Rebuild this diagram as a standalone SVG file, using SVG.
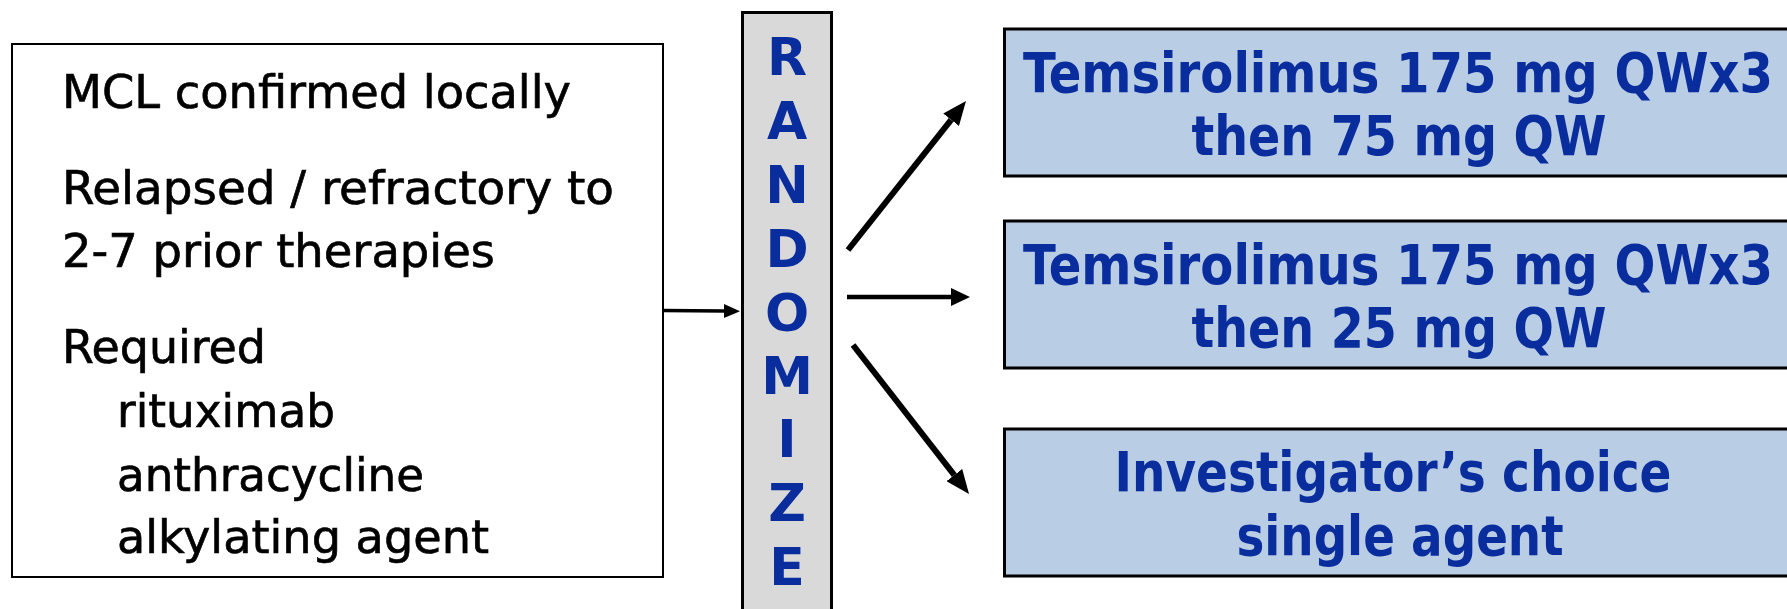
<svg xmlns="http://www.w3.org/2000/svg" width="1787" height="609" viewBox="0 0 1787 609">
<style>
.lt{font-family:'DejaVu Sans Condensed','DejaVu Sans',sans-serif;font-size:47px;fill:#000;stroke:#000;stroke-width:0.6}
.bt{font-family:'DejaVu Sans Condensed','DejaVu Sans',sans-serif;font-size:55px;font-weight:bold;fill:#0A2D9E;text-anchor:middle}
.rt{font-family:'DejaVu Sans','Liberation Sans',sans-serif;font-size:52px;font-weight:bold;fill:#0A2D9E;text-anchor:middle}
.arm{fill:#B9CDE5;stroke:#000;stroke-width:3}
.conn{stroke:#000;fill:none}
</style>
<defs>
<marker id="hb" markerUnits="userSpaceOnUse" markerWidth="24" markerHeight="20" viewBox="0 0 24 20" refX="0" refY="10" orient="auto"><path d="M0,0 L24,10 L0,20 Z" fill="#000"/></marker>
<marker id="hm" markerUnits="userSpaceOnUse" markerWidth="19" markerHeight="18" viewBox="0 0 19 18" refX="0" refY="9" orient="auto"><path d="M0,0 L19,9 L0,18 Z" fill="#000"/></marker>
<marker id="hs" markerUnits="userSpaceOnUse" markerWidth="16" markerHeight="14" viewBox="0 0 16 14" refX="0" refY="7" orient="auto"><path d="M0,0 L16,7 L0,14 Z" fill="#000"/></marker>
</defs>
<rect width="1787" height="609" fill="#fff"/>
<g id="eligibility">
<rect x="12" y="44" width="651" height="533" fill="#fff" stroke="#000" stroke-width="2"/>
<text class="lt" x="62" y="108" textLength="509" lengthAdjust="spacingAndGlyphs">MCL confirmed locally</text>
<text class="lt" x="62" y="204" textLength="552" lengthAdjust="spacingAndGlyphs">Relapsed / refractory to</text>
<text class="lt" x="62" y="267" textLength="433" lengthAdjust="spacingAndGlyphs">2-7 prior therapies</text>
<text class="lt" x="62" y="363" textLength="204" lengthAdjust="spacingAndGlyphs">Required</text>
<text class="lt" x="117" y="427" textLength="218" lengthAdjust="spacingAndGlyphs">rituximab</text>
<text class="lt" x="117" y="491" textLength="307" lengthAdjust="spacingAndGlyphs">anthracycline</text>
<text class="lt" x="117" y="553" textLength="372" lengthAdjust="spacingAndGlyphs">alkylating agent</text>
</g>
<g id="randomize">
<rect x="742.5" y="12.5" width="89" height="610" fill="#D9D9D9" stroke="#000" stroke-width="3"/>
<text class="rt" x="787" y="75">R</text>
<text class="rt" x="787" y="139">A</text>
<text class="rt" x="787" y="203">N</text>
<text class="rt" x="787" y="267">D</text>
<text class="rt" x="787" y="331">O</text>
<text class="rt" x="787" y="394">M</text>
<text class="rt" x="787" y="457">I</text>
<text class="rt" x="787" y="521">Z</text>
<text class="rt" x="787" y="585">E</text>
</g>
<g id="arm1">
<rect class="arm" x="1004.5" y="29" width="800" height="147"/>
<text class="bt" x="1398" y="92" textLength="750" lengthAdjust="spacingAndGlyphs">Temsirolimus 175 mg QWx3</text>
<text class="bt" x="1399" y="155" textLength="415" lengthAdjust="spacingAndGlyphs">then 75 mg QW</text>
</g>
<g id="arm2">
<rect class="arm" x="1004.5" y="221" width="800" height="147"/>
<text class="bt" x="1398" y="284" textLength="750" lengthAdjust="spacingAndGlyphs">Temsirolimus 175 mg QWx3</text>
<text class="bt" x="1399" y="347" textLength="415" lengthAdjust="spacingAndGlyphs">then 25 mg QW</text>
</g>
<g id="arm3">
<rect class="arm" x="1004.5" y="429" width="800" height="147"/>
<text class="bt" x="1393" y="491" textLength="557" lengthAdjust="spacingAndGlyphs">Investigator’s choice</text>
<text class="bt" x="1400" y="555" textLength="327" lengthAdjust="spacingAndGlyphs">single agent</text>
</g>
<g id="connectors">
<line class="conn" x1="663" y1="310.5" x2="724" y2="311" stroke-width="3.5" marker-end="url(#hs)"/>
<line class="conn" x1="848" y1="250" x2="951.1" y2="119.8" stroke-width="6" marker-end="url(#hb)"/>
<line class="conn" x1="847" y1="297" x2="951" y2="297" stroke-width="4.5" marker-end="url(#hm)"/>
<line class="conn" x1="853" y1="345" x2="954.3" y2="475.1" stroke-width="6" marker-end="url(#hb)"/>
</g>
</svg>
